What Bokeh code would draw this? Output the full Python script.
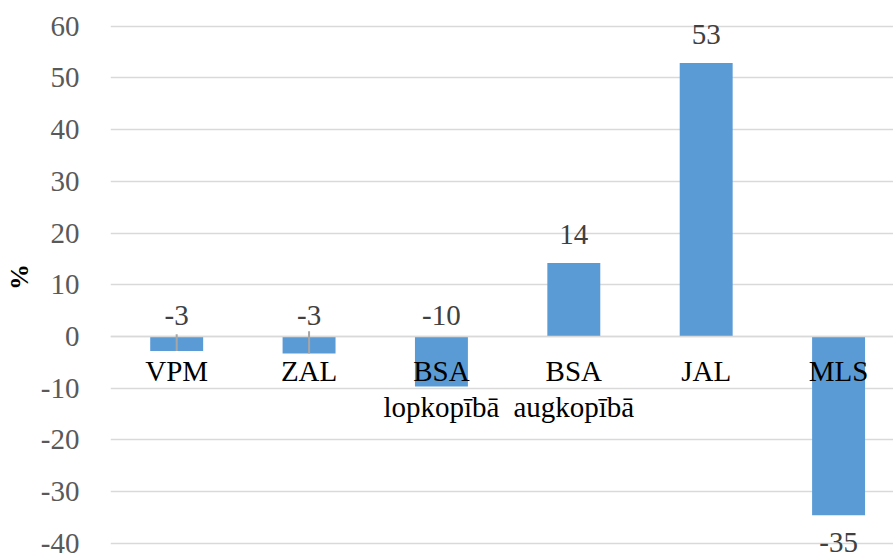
import numpy as np
from bokeh.plotting import figure
from bokeh.models import Range1d, ColumnDataSource, Whisker, Span, FixedTicker
from bokeh.core.properties import value
from bokeh.embed import file_html
from bokeh.resources import INLINE

# ---- data ----
categories = ["VPM", "ZAL", "BSA\nlopkopībā", "BSA\naugkopībā", "JAL", "MLS"]
values = [-2.8, -3.3, -9.7, 14.2, 52.9, -34.6]
value_labels = ["-3", "-3", "-10", "14", "53", "-35"]
err_plus = [3.2, 4.3, 0.0, 0.0, 0.0, 0.0]
y_ticks = [-40, -30, -20, -10, 0, 10, 20, 30, 40, 50, 60]
y_tick_labels = ["-40", "-30", "-20", "-10", "0", "10", "20", "30", "40", "50", "60"]

FONT = "Liberation Serif"
BAR = "#5B9BD5"
GRID = "#d9d9d9"

xs = np.arange(len(categories))
vals = np.array(values)
errs = np.array(err_plus)

p = figure(width=893, height=553, output_backend="svg", toolbar_location=None,
           x_range=Range1d(-0.5, 5.415), y_range=Range1d(-41.99, 64.97),
           min_border_left=110, min_border_right=0, min_border_top=0, min_border_bottom=0)
p.outline_line_color = None
p.background_fill_color = "white"
p.xgrid.visible = False
p.xaxis.visible = False
p.ygrid.grid_line_color = GRID
p.ygrid.grid_line_width = 1.5

yax = p.yaxis[0]
yax.ticker = FixedTicker(ticks=y_ticks)
yax.major_label_overrides = {t: s for t, s in zip(y_ticks, y_tick_labels)}
yax.axis_line_color = None
yax.major_tick_line_color = None
yax.minor_tick_line_color = None
yax.major_label_standoff = 25
yax.major_label_text_font = FONT
yax.major_label_text_font_size = "29px"
yax.major_label_text_color = "#595959"
yax.axis_label = "%"
yax.axis_label_text_font = FONT
yax.axis_label_text_font_style = "bold"
yax.axis_label_text_font_size = "26px"
yax.axis_label_text_color = "#000000"
yax.axis_label_standoff = 4

src = ColumnDataSource(dict(x=xs, top=vals))
p.vbar(x="x", top="top", bottom=0, width=0.4, source=src,
       fill_color=BAR, line_color=None)

# error bars (plus direction only)
m = errs > 0
esrc = ColumnDataSource(dict(x=xs[m], lo=vals[m], hi=(vals + errs)[m]))
w = Whisker(base="x", lower="lo", upper="hi", source=esrc,
            line_color="#a6a6a6", line_width=2, level="overlay")
w.lower_head = None
w.upper_head = None
p.add_layout(w)

# zero line over bars
p.add_layout(Span(location=0, dimension="width", line_color=GRID, line_width=1.5))

# data labels
pos = vals >= 0
small_neg = (vals < 0) & (vals > -20)
big_neg = vals <= -20
lab = np.array(value_labels)

p.text(x=xs[pos], y=vals[pos], text=lab[pos], text_align="center",
       text_baseline="alphabetic", y_offset=-28.5,
       text_font=value(FONT), text_font_size="29px", text_color="#404040")
p.text(x=xs[small_neg], y=np.zeros(small_neg.sum()), text=lab[small_neg],
       text_align="center", text_baseline="alphabetic", y_offset=-21,
       text_font=value(FONT), text_font_size="29px", text_color="#404040")
p.text(x=xs[big_neg], y=vals[big_neg], text=lab[big_neg], text_align="center",
       text_baseline="top", y_offset=18,
       text_font=value(FONT), text_font_size="29px", text_color="#404040")

# category labels along zero line
p.text(x=xs, y=np.zeros(len(xs)), text=categories, text_align="center",
       text_baseline="top", y_offset=19, text_line_height=1.12,
       text_font=value(FONT), text_font_size="29px", text_color="#000000")

open("out.html", "w").write(file_html(p, INLINE))
